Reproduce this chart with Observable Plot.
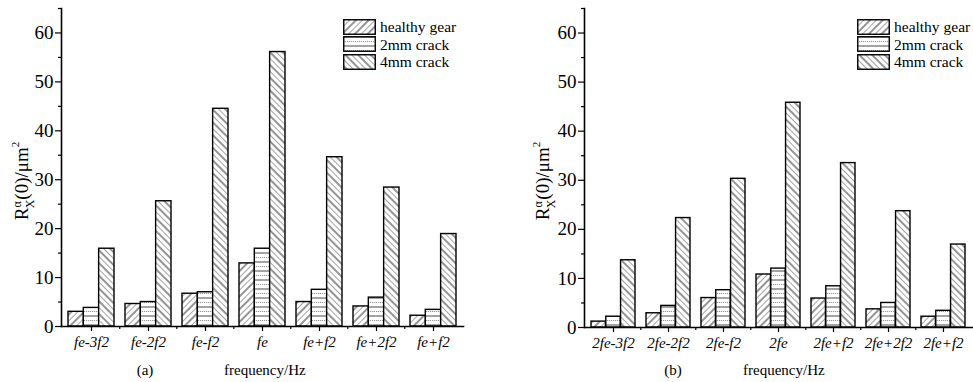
<!DOCTYPE html>
<html><head><meta charset="utf-8">
<script src="https://cdn.jsdelivr.net/npm/d3@7"></script>
<script src="https://cdn.jsdelivr.net/npm/@observablehq/plot@0.6"></script>
<style>
body{margin:0;background:#fff;}
#wrap{position:relative;width:973px;height:382px;font-family:"Liberation Serif","Times New Roman",serif;color:#000;}
.panel{position:absolute;top:0;}
.legend{position:absolute;top:18px;font-size:15.5px;line-height:17.5px;}
.legend .row{display:flex;align-items:center;height:17.5px;}
.legend svg{margin-right:4px;display:block;}
.cap{position:absolute;top:362px;font-size:15px;white-space:nowrap;}
</style></head><body>
<svg width="0" height="0" style="position:absolute">
<defs>
<pattern id="patHealthy" patternUnits="userSpaceOnUse" width="9" height="9" patternTransform="rotate(45)">
<rect width="9" height="9" fill="#fff"/>
<line x1="1" y1="0" x2="1" y2="9" stroke="#111" stroke-width="0.9"/>
<line x1="5.5" y1="0" x2="5.5" y2="9" stroke="#9a9a9a" stroke-width="0.9"/>
</pattern>
<pattern id="patCrack2" patternUnits="userSpaceOnUse" width="4" height="9">
<rect width="4" height="9" fill="#fff"/>
<line x1="0" y1="1" x2="4" y2="1" stroke="#333" stroke-width="0.9"/>
<line x1="0" y1="5.5" x2="4" y2="5.5" stroke="#8a8a8a" stroke-width="0.9" stroke-dasharray="1.2 0.8"/>
</pattern>
<pattern id="patCrack4" patternUnits="userSpaceOnUse" width="9" height="9" patternTransform="rotate(-45)">
<rect width="9" height="9" fill="#fff"/>
<line x1="1" y1="0" x2="1" y2="9" stroke="#111" stroke-width="0.9"/>
<line x1="5.5" y1="0" x2="5.5" y2="9" stroke="#9a9a9a" stroke-width="0.9"/>
</pattern>
</defs>
</svg>
<div id="wrap"></div>
<script>
// ---- data ----
const seriesNames = ["healthy gear", "2mm crack", "4mm crack"];
const labelsA = ["fe-3f2", "fe-2f2", "fe-f2", "fe", "fe+f2", "fe+2f2", "fe+f2"];
const labelsB = ["2fe-3f2", "2fe-2f2", "2fe-f2", "2fe", "2fe+f2", "2fe+2f2", "2fe+f2"];
const healthyA = [3.0, 4.6, 6.7, 12.9, 5.0, 4.1, 2.2];
const crack2A  = [3.8, 5.0, 7.0, 15.9, 7.5, 5.9, 3.4];
const crack4A  = [15.9, 25.6, 44.5, 56.1, 34.6, 28.4, 18.9];
const healthyB = [1.2, 2.9, 6.0, 10.8, 5.9, 3.7, 2.2];
const crack2B  = [2.2, 4.4, 7.6, 12.0, 8.4, 5.0, 3.4];
const crack4B  = [13.7, 22.3, 30.3, 45.8, 33.5, 23.7, 16.9];
const yMajorTicks = [0, 10, 20, 30, 40, 50, 60];
const yMinorTicks = [5, 15, 25, 35, 45, 55, 65];

const patterns = ["url(#patHealthy)", "url(#patCrack2)", "url(#patCrack4)"];
const FONT = '"Liberation Serif","Times New Roman",serif';

function panel(labels, values, o) {
  const n = labels.length;
  const idx = d3.range(n);
  const pInner = 0.2, pOuter = 0.1;
  const plotW = o.width - o.marginLeft - o.marginRight;
  const step = plotW / (n - pInner + 2 * pOuter);
  const bw = step * (1 - pInner);
  const third = bw / 3;
  const barMarks = values.map((vals, s) =>
    Plot.barY(idx.map(i => ({i, v: vals[i]})), {
      x: "i", y: "v", fill: patterns[s], stroke: "#000", strokeWidth: 1.4,
      insetLeft: s * third, insetRight: (2 - s) * third
    })
  );
  const p = Plot.plot({
    width: o.width, height: 350,
    marginLeft: o.marginLeft, marginRight: o.marginRight,
    marginTop: 8, marginBottom: o.marginBottom,
    style: {fontFamily: FONT, fontSize: "19px", color: "#000", background: "transparent", overflow: "visible"},
    x: {type: "band", domain: idx, paddingInner: pInner, paddingOuter: pOuter, label: null},
    y: {domain: [0, 65], label: null},
    marks: [
      ...barMarks,
      Plot.axisY({ticks: yMajorTicks, tickSize: 6, tickPadding: 2, label: null, fontSize: 19, strokeWidth: 1.2}),
      Plot.axisY({ticks: yMinorTicks, tickSize: 3, tickFormat: () => "", label: null, strokeWidth: 1.2}),
      Plot.axisX({tickSize: 5, tickPadding: 5, tickFormat: i => labels[i], label: null, fontSize: 15, fontStyle: "italic", strokeWidth: 1.2}),
      Plot.axisX({ticks: d3.range(1, n), dx: -step / 2, tickSize: 3, tickFormat: () => "", label: null, strokeWidth: 1.2}),
      Plot.frame({anchor: "left", strokeWidth: 1.6}),
      Plot.frame({anchor: "bottom", strokeWidth: 1.6})
    ]
  });
  // y-axis title with sub/superscripts
  const t = d3.select(p).append("text")
    .attr("transform", `translate(${o.labelX},181) rotate(-90)`)
    .attr("text-anchor", "middle")
    .attr("font-family", FONT).attr("font-size", 19).attr("fill", "#000");
  t.append("tspan").text("R");
  t.append("tspan").attr("font-size", 12).attr("dy", -7).text("α");
  t.append("tspan").attr("font-size", 12).attr("dx", -7).attr("dy", 13).text("X");
  t.append("tspan").attr("dy", -6).text("(0)/μm");
  t.append("tspan").attr("font-size", 11).attr("dy", -9).text("2");
  return p;
}

function legendHtml(left) {
  const lg = document.createElement("div");
  lg.className = "legend";
  lg.style.left = left + "px";
  seriesNames.forEach((name, s) => {
    const row = document.createElement("div");
    row.className = "row";
    row.innerHTML = `<svg width="33" height="16"><rect x="0.75" y="0.75" width="31.5" height="14.5" fill="${patterns[s]}" stroke="#000" stroke-width="1.4"/></svg><span>${name}</span>`;
    lg.appendChild(row);
  });
  return lg;
}

const wrap = document.getElementById("wrap");

const left = document.createElement("div");
left.className = "panel"; left.style.left = "0px";
left.appendChild(panel(labelsA, [healthyA, crack2A, crack4A], {width: 487, marginLeft: 61, marginRight: 24, marginBottom: 24, labelX: 28}));
wrap.appendChild(left);

const right = document.createElement("div");
right.className = "panel"; right.style.left = "487px";
right.appendChild(panel(labelsB, [healthyB, crack2B, crack4B], {width: 486, marginLeft: 97, marginRight: 1, marginBottom: 23, labelX: 62}));
wrap.appendChild(right);

wrap.appendChild(legendHtml(343));
wrap.appendChild(legendHtml(857));

function cap(text, x, anchorMid) {
  const d = document.createElement("div");
  d.className = "cap"; d.textContent = text;
  d.style.left = x + "px";
  if (anchorMid) d.style.transform = "translateX(-50%)";
  wrap.appendChild(d);
}
cap("(a)", 145, true);
cap("frequency/Hz", 224, false);
cap("(b)", 673, true);
cap("frequency/Hz", 743, false);
</script>
</body></html>
